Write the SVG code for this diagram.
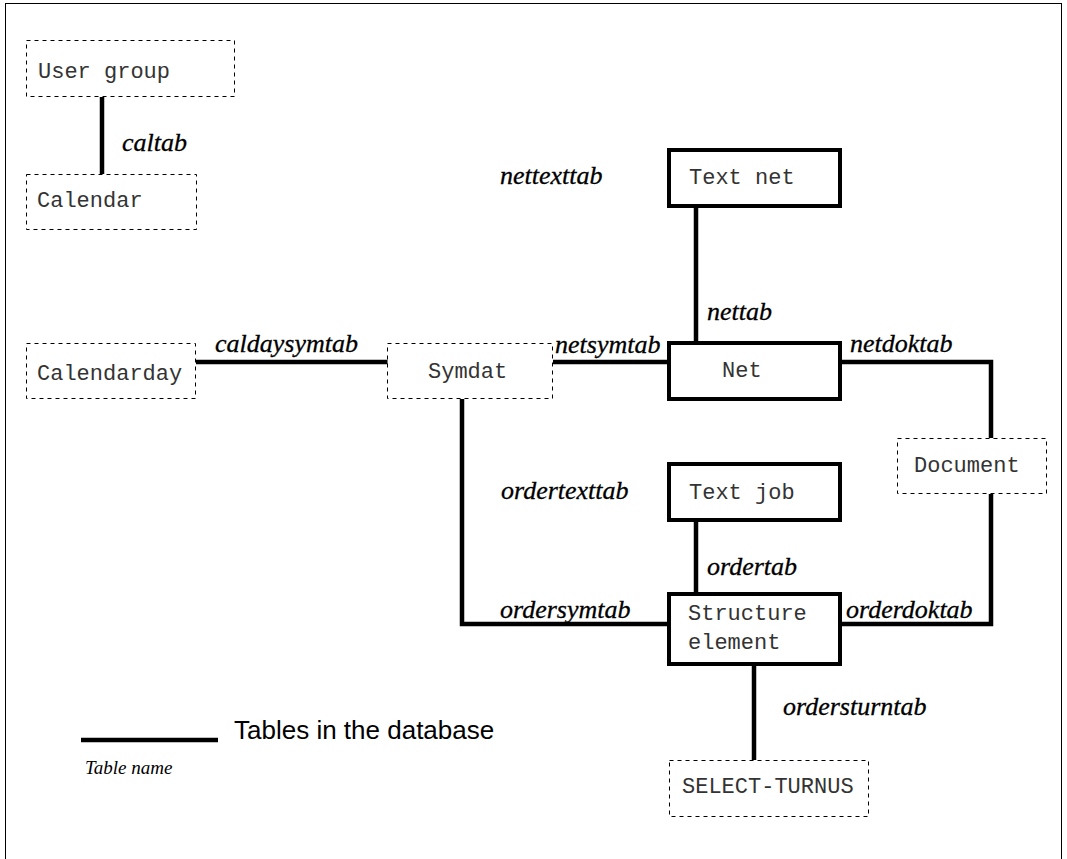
<svg xmlns="http://www.w3.org/2000/svg" width="1067" height="859" viewBox="0 0 1067 859">
  <style>
    .frame { fill: none; stroke: #000; stroke-width: 1; }
    .ext { fill: #fff; stroke: #000; stroke-width: 1; stroke-dasharray: 4 4; }
    .tbl { fill: #fff; stroke: #000; stroke-width: 4; }
    .name { font-family: "Liberation Mono", "DejaVu Sans Mono", monospace; font-size: 22px; fill: #333; }
    .rel { fill: none; stroke: #000; stroke-width: 4.5; }
    .lbl { font-family: "Liberation Serif", "Times New Roman", serif; font-style: italic; font-size: 26px; fill: #000; stroke: #000; stroke-width: 0.3; }
    .legend { font-family: "Liberation Sans", Arial, sans-serif; font-size: 26px; fill: #000; }
    .key { font-family: "Liberation Serif", "Times New Roman", serif; font-style: italic; font-size: 19px; fill: #000; }
  </style>

  <rect class="frame" x="5.5" y="3.5" width="1056" height="900"/>

  <!-- relations (table links) -->
  <g id="connectors">
    <line class="rel" x1="102" y1="97" x2="102" y2="174"/>
    <line class="rel" x1="196" y1="362" x2="388" y2="362"/>
    <line class="rel" x1="553" y1="362" x2="671" y2="362"/>
    <line class="rel" x1="696" y1="206" x2="696" y2="343"/>
    <polyline class="rel" points="840,362 991,362 991,438"/>
    <polyline class="rel" points="991,494 991,624 840,624"/>
    <polyline class="rel" points="462,399 462,624 669,624"/>
    <line class="rel" x1="696" y1="520" x2="696" y2="594"/>
    <line class="rel" x1="754" y1="664" x2="754" y2="760"/>
  </g>

  <g id="labels">
    <text class="lbl" x="122" y="151">caltab</text>
    <text class="lbl" x="215" y="352">caldaysymtab</text>
    <text class="lbl" x="500" y="184">nettexttab</text>
    <text class="lbl" x="707" y="320">nettab</text>
    <text class="lbl" x="555" y="353">netsymtab</text>
    <text class="lbl" x="850" y="352">netdoktab</text>
    <text class="lbl" x="501" y="499">ordertexttab</text>
    <text class="lbl" x="707" y="575">ordertab</text>
    <text class="lbl" x="500" y="618">ordersymtab</text>
    <text class="lbl" x="846" y="618">orderdoktab</text>
    <text class="lbl" x="783" y="715">ordersturntab</text>
  </g>

  <g id="user-group">
    <rect class="ext" x="26.5" y="40.5" width="208" height="56"/>
    <text class="name" x="38" y="78">User group</text>
  </g>
  <g id="calendar">
    <rect class="ext" x="26.5" y="174.5" width="170" height="55"/>
    <text class="name" x="37" y="207">Calendar</text>
  </g>
  <g id="calendarday">
    <rect class="ext" x="26.5" y="343.5" width="169" height="55"/>
    <text class="name" x="37" y="380">Calendarday</text>
  </g>
  <g id="symdat">
    <rect class="ext" x="387.5" y="343.5" width="165" height="55"/>
    <text class="name" x="428" y="378">Symdat</text>
  </g>
  <g id="text-net">
    <rect class="tbl" x="669" y="150" width="171" height="56"/>
    <text class="name" x="689" y="184">Text net</text>
  </g>
  <g id="net">
    <rect class="tbl" x="669" y="343" width="171" height="56"/>
    <text class="name" x="722" y="377">Net</text>
  </g>
  <g id="document">
    <rect class="ext" x="897.5" y="438.5" width="149" height="55"/>
    <text class="name" x="914" y="472">Document</text>
  </g>
  <g id="text-job">
    <rect class="tbl" x="669" y="464" width="171" height="56"/>
    <text class="name" x="689" y="499">Text job</text>
  </g>
  <g id="structure-element">
    <rect class="tbl" x="669" y="594" width="171" height="70"/>
    <text class="name" x="688" y="620">Structure</text>
    <text class="name" x="688" y="649">element</text>
  </g>
  <g id="select-turnus">
    <rect class="ext" x="669.5" y="760.5" width="199" height="56"/>
    <text class="name" x="682" y="793">SELECT-TURNUS</text>
  </g>

  <!-- key -->
  <g id="legend">
    <line class="rel" x1="81" y1="740" x2="218" y2="740"/>
    <text class="legend" x="234" y="739">Tables in the database</text>
    <text class="key" x="85" y="774">Table name</text>
  </g>
</svg>
